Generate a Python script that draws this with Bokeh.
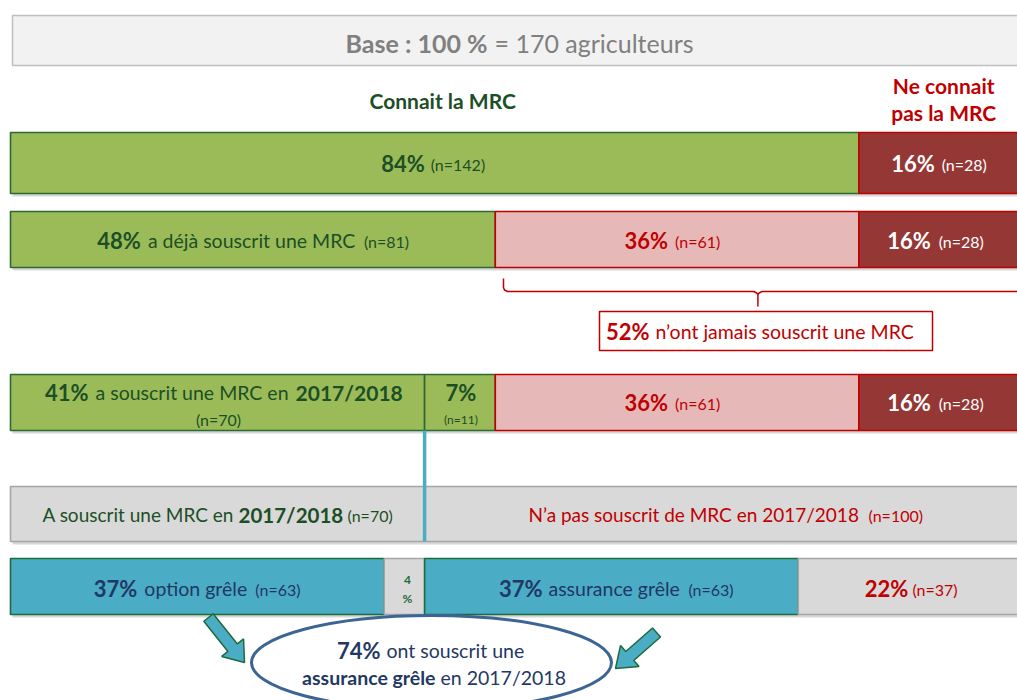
import numpy as np
from bokeh.plotting import figure
from bokeh.models import Range1d
from bokeh.core.properties import value
from bokeh.embed import file_html
from bokeh.resources import INLINE

# ---------------- data ----------------
total_n = 170
know_labels = ["Connait la MRC", "Ne connait pas la MRC"]
know_pct = [84, 16]
know_n = [142, 28]
ever_pct = [48, 36, 16]
ever_n = [81, 61, 28]
never_pct = 52
recent_pct = [41, 7, 36, 16]
recent_n = [70, 11, 61, 28]
split_pct = [41, 59]
split_n = [70, 100]
hail_pct = [37, 4, 37, 22]
hail_n = [63, None, 63, 37]
hail_total_pct = 74
season = "2017/2018"

# ---------------- styles ----------------
FONT = value("Lato")
GREEN, GREEN_L = "#9bbb59", "#2b6a35"
DRED, RED, PINK = "#953735", "#c00000", "#e6b9b8"
TEAL, TEAL_L = "#4bacc6", "#1e6b3a"
GREY, GREY_L = "#d9d9d9", "#a6a6a6"
DKG, NAVY = "#1c4f25", "#1f3864"
ELL = "#3c6595"
BS, NS, SS = 22, 19.5, 16      # bold %, normal text, (n=..) sizes

W, H = 1017, 700
PX0, PPP = 10.0, 10.1          # screen x of 0 %, pixels per percent
p = figure(width=W, height=H, x_range=Range1d(-PX0 / PPP, (W - PX0) / PPP),
           y_range=Range1d(H, 0), output_backend="svg",
           toolbar_location=None, min_border=0,
           x_axis_location=None, y_axis_location=None)
p.grid.visible = False
p.outline_line_color = None


def X(px):
    return (px - PX0) / PPP


def edges(vals):
    e = np.concatenate([[0], np.cumsum(vals)])
    return e[:-1], e[1:], (e[:-1] + e[1:]) / 2


def txt(x, y, s, size, color, bold=False, align="left", xoff=0):
    p.text(x=[x], y=[y], text=[s], text_font=FONT, text_font_size=f"{size}px",
           text_font_style="bold" if bold else "normal", text_color=color,
           text_align=align, text_baseline="middle", x_offset=xoff)


def boxes(left, right, top, bot, fills, lines, shadow=True):
    n = len(left)
    if shadow:
        p.quad(left=np.array(left) + 2 / PPP, right=np.array(right) + 2 / PPP,
               top=[top + 3] * n, bottom=[bot + 3] * n,
               fill_color="#8c8c8c", fill_alpha=0.35, line_color=None)
    p.quad(left=left, right=right, top=[top] * n, bottom=[bot] * n,
           fill_color=fills, line_color=lines, line_width=1.6)


# ---------------- title ----------------
p.quad(left=[X(12)], right=[X(1040)], top=[15], bottom=[65],
       fill_color="#f2f2f2", line_color="#bfbfbf", line_width=1.5)
txt(X(487), 42, "Base : 100 %", 25, "#808080", True, "right")
txt(X(494), 42, f"= {total_n} agriculteurs", 25, "#808080")

# ---------------- row 1 : knows MRC ----------------
l, r, c = edges(know_pct)
txt(c[0], 100, know_labels[0], 21, DKG, True, "center", 8)
txt(c[1], 85, "Ne connait", 21, RED, True, "center", 4)
txt(c[1], 112, "pas la MRC", 21, RED, True, "center", 4)
boxes(l, r, 132, 193, [GREEN, DRED], [GREEN_L, RED])
txt(c[0], 163, f"{know_pct[0]}%", BS, DKG, True, "right", -10)
txt(c[0], 164, f"(n={know_n[0]})", SS, DKG, False, "left", -4)
txt(c[1], 163, f"{know_pct[1]}%", BS, "white", True, "right", -5)
txt(c[1], 164, f"(n={know_n[1]})", SS, "white", False, "left", 2)

# ---------------- row 2 : ever subscribed ----------------
l, r, c = edges(ever_pct)
boxes(l, r, 211, 267, [GREEN, PINK, DRED], [GREEN_L, RED, RED])
txt(c[0], 240, f"{ever_pct[0]}%", BS, DKG, True, "right", -112)
txt(c[0], 240, "a déjà souscrit une MRC", NS, DKG, False, "left", -105)
txt(c[0], 241, f"(n={ever_n[0]})", SS, DKG, False, "left", 111)
txt(c[1], 240, f"{ever_pct[1]}%", BS, RED, True, "right", -9)
txt(c[1], 241, f"(n={ever_n[1]})", SS, RED, False, "left", -2)
txt(c[2], 240, f"{ever_pct[2]}%", BS, "white", True, "right", -9)
txt(c[2], 241, f"(n={ever_n[2]})", SS, "white", False, "left", -1)

# bracket over "never subscribed" (36 % + 16 %)
bl = X(503)
bm = never_pct / 2 + ever_pct[0]
d = 0.4
p.line(x=[bl, bl, bl + 0.1, bl + d, bm - d, bm - 0.12, bm, bm],
       y=[278, 287, 289.5, 291, 291, 292.5, 294, 306], line_color=RED, line_width=1.5)
p.line(x=[bm, bm + 0.12, bm + d, 105], y=[294, 292.5, 291, 291],
       line_color=RED, line_width=1.5)
p.quad(left=[X(599)], right=[X(932)], top=[311], bottom=[350],
       fill_color="white", line_color=RED, line_width=1.5)
txt(X(649), 331, f"{never_pct}%", BS, RED, True, "right")
txt(X(655), 331, "n’ont jamais souscrit une MRC", NS, RED)

# ---------------- row 3 : subscribed in 2017/2018 ----------------
l, r, c = edges(recent_pct)
boxes(l, r, 374, 430, [GREEN, GREEN, PINK, DRED], [GREEN_L, GREEN_L, RED, RED])
txt(c[0], 392, f"{recent_pct[0]}%", BS, DKG, True, "right", -129)
txt(c[0], 392, "a souscrit une MRC en", NS, DKG, False, "left", -122)
txt(c[0], 392, season, 21, DKG, True, "left", 78)
txt(c[0], 419, f"(n={recent_n[0]})", SS, DKG, False, "center", 1)
txt(c[1], 392, f"{recent_pct[1]}%", BS, DKG, True, "center", 1)
txt(c[1], 419, f"(n={recent_n[1]})", 12, DKG, False, "center", 1)
txt(c[2], 402, f"{recent_pct[2]}%", BS, RED, True, "right", -9)
txt(c[2], 403, f"(n={recent_n[2]})", SS, RED, False, "left", -2)
txt(c[3], 402, f"{recent_pct[3]}%", BS, "white", True, "right", -9)
txt(c[3], 403, f"(n={recent_n[3]})", SS, "white", False, "left", -1)

# ---------------- row 4 : split 2017/2018 ----------------
l, r, c = edges(split_pct)
boxes([0], [sum(split_pct)], 486, 541, [GREY], [GREY_L])
txt(c[0], 514, "A souscrit une MRC en", 19, DKG, False, "left", -175)
txt(c[0], 514, season, 20.5, DKG, True, "left", 21)
txt(c[0], 515, f"(n={split_n[0]})", SS, DKG, False, "left", 130)
txt(c[1], 514, f"N’a pas souscrit de MRC en {season}", 19, RED, False, "left", -194)
txt(c[1], 515, f"(n={split_n[1]})", SS, RED, False, "left", 146)
# connector line at the 2017/2018 boundary
p.line(x=[r[0], r[0]], y=[430, 541], line_color=TEAL, line_width=3.5)

# ---------------- row 5 : hail insurance ----------------
l, r, c = edges(hail_pct)
boxes(l, r, 558, 614, [TEAL, GREY, TEAL, GREY], [TEAL_L, GREY_L, TEAL_L, GREY_L])
txt(c[0], 588, f"{hail_pct[0]}%", BS, NAVY, True, "right", -60)
txt(c[0], 588, "option grêle", NS, NAVY, False, "left", -53)
txt(c[0], 589, f"(n={hail_n[0]})", SS, NAVY, False, "left", 58)
txt(c[1], 579, f"{hail_pct[1]}", 12, TEAL_L, True, "center", 3)
txt(c[1], 598, "%", 12, TEAL_L, True, "center", 3)
txt(c[2], 588, f"{hail_pct[2]}%", BS, NAVY, True, "right", -69)
txt(c[2], 588, "assurance grêle", NS, NAVY, False, "left", -63)
txt(c[2], 589, f"(n={hail_n[2]})", SS, NAVY, False, "left", 77)
txt(c[3], 588, f"{hail_pct[3]}%", BS, RED, True, "right", -1)
txt(c[3], 589, f"(n={hail_n[3]})", SS, RED, False, "left", 3)


# ---------------- arrows + ellipse ----------------
def block_arrow(tail, tip, shaft_w=12, head_w=28, head_len=19):
    t, h = np.array(tail, float), np.array(tip, float)
    v = h - t
    L = np.hypot(*v)
    u = v / L
    nrm = np.array([-u[1], u[0]])
    b = h - u * head_len
    pts = [t + nrm * shaft_w / 2, b + nrm * shaft_w / 2, b + nrm * head_w / 2, h,
           b - nrm * head_w / 2, b - nrm * shaft_w / 2, t - nrm * shaft_w / 2]
    xs = [X(q[0]) for q in pts]
    ys = [q[1] for q in pts]
    p.patch(xs, ys, fill_color=TEAL, line_color=TEAL_L, line_width=1.5)


block_arrow((208, 617), (244, 662))
block_arrow((656, 632), (615, 668))

p.ellipse(x=[X(431)], y=[662], width=[360], height=[94],
          width_units="screen", height_units="screen",
          fill_color="white", line_color=ELL, line_width=3)
txt(X(380), 650, f"{hail_total_pct}%", BS, NAVY, True, "right")
txt(X(386), 650, "ont souscrit une", NS, NAVY)
txt(X(435), 677, "assurance grêle", NS, NAVY, True, "right")
txt(X(440), 677, f"en {season}", NS, NAVY)

open("out.html", "w").write(file_html(p, INLINE))
